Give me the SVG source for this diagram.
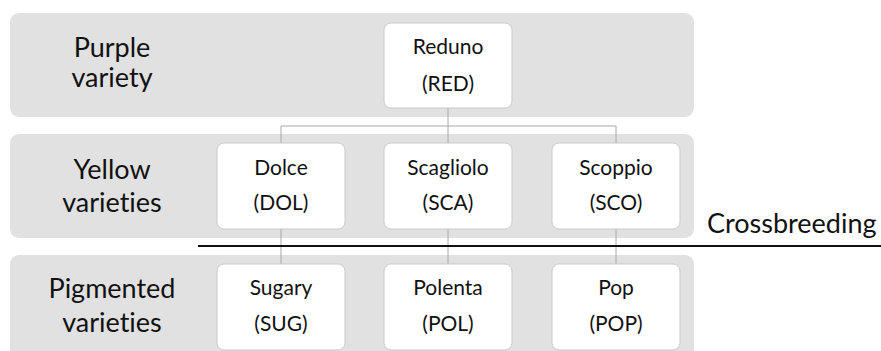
<svg xmlns="http://www.w3.org/2000/svg" width="881" height="351" viewBox="0 0 881 351">
<style>
text{font-variant-ligatures:none}
.band{fill:#e1e1e1}
.node rect{fill:#fff;stroke:#c9c9c9;stroke-width:1}
.nt{font-family:Lato,"Open Sans","Liberation Sans",sans-serif;font-size:21px;fill:#111;text-anchor:middle}
.lbl{font-family:Lato,"Open Sans","Liberation Sans",sans-serif;font-size:27px;fill:#111;text-anchor:middle}
.conn line,.conn path{stroke:#a8a8a8;stroke-width:1;fill:none}
</style>
<rect width="881" height="351" fill="#fff"/>
<g id="band-purple"><rect class="band" x="10" y="13" width="684" height="104" rx="9"/>
<text class="lbl" x="112" y="57">Purple</text><text class="lbl" x="112" y="87">variety</text></g>
<g id="band-yellow"><rect class="band" x="10" y="134" width="684" height="104" rx="9"/>
<text class="lbl" x="112" y="179">Yellow</text><text class="lbl" x="112" y="212">varieties</text></g>
<g id="band-pigmented"><rect class="band" x="10" y="255" width="684" height="110" rx="9"/>
<text class="lbl" x="112" y="298">Pigmented</text><text class="lbl" x="112" y="332">varieties</text></g>
<g class="conn" id="connectors">
<path d="M448 108V126M281 143V126H616V143M448 126V143"/>
<line x1="281" y1="229" x2="281" y2="264"/>
<line x1="448" y1="229" x2="448" y2="264"/>
<line x1="616" y1="229" x2="616" y2="264"/>
</g>
<g id="crossbreeding">
<line x1="198" y1="246" x2="881" y2="246" stroke="#111" stroke-width="2"/>
<text x="707" y="233" font-family="Lato,'Open Sans','Liberation Sans',sans-serif" font-size="27" fill="#111">Crossbreeding</text>
</g>
<g class="node" id="RED"><rect x="384" y="23" width="128" height="85" rx="7"/><text class="nt" x="448" y="54">Reduno</text><text class="nt" x="448" y="91">(RED)</text></g>
<g class="node" id="DOL"><rect x="217" y="143" width="128" height="86" rx="7"/><text class="nt" x="281" y="175">Dolce</text><text class="nt" x="281" y="210">(DOL)</text></g>
<g class="node" id="SCA"><rect x="384" y="143" width="128" height="86" rx="7"/><text class="nt" x="448" y="175">Scagliolo</text><text class="nt" x="448" y="210">(SCA)</text></g>
<g class="node" id="SCO"><rect x="552" y="143" width="128" height="86" rx="7"/><text class="nt" x="616" y="175">Scoppio</text><text class="nt" x="616" y="210">(SCO)</text></g>
<g class="node" id="SUG"><rect x="217" y="264" width="128" height="86" rx="7"/><text class="nt" x="281" y="295">Sugary</text><text class="nt" x="281" y="331">(SUG)</text></g>
<g class="node" id="POL"><rect x="384" y="264" width="128" height="86" rx="7"/><text class="nt" x="448" y="295">Polenta</text><text class="nt" x="448" y="331">(POL)</text></g>
<g class="node" id="POP"><rect x="552" y="264" width="128" height="86" rx="7"/><text class="nt" x="616" y="295">Pop</text><text class="nt" x="616" y="331">(POP)</text></g>
</svg>
